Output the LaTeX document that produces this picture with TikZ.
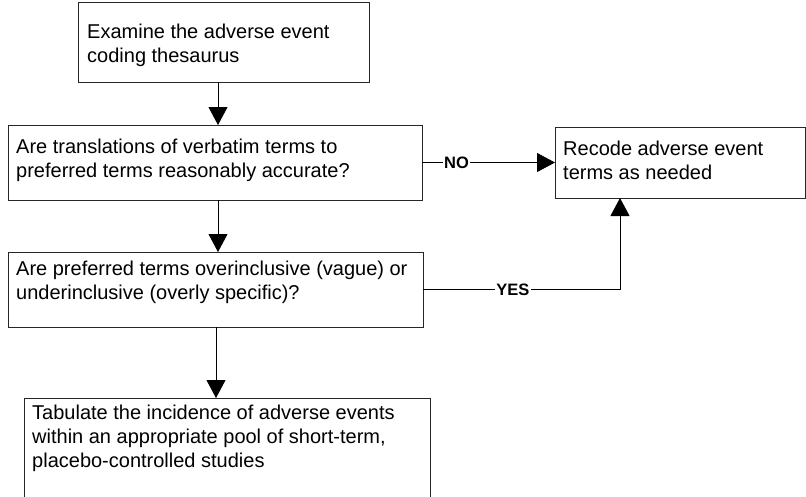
\documentclass[tikz,border=0pt]{standalone}
\usepackage{fontspec}
\setmainfont{Liberation Sans}
\usetikzlibrary{arrows.meta,calc}
\begin{document}
\begin{tikzpicture}[x=1pt,y=-1pt,
  box/.style={draw=black!85,line width=1pt,rectangle,inner sep=0pt,outer sep=0pt,anchor=north west},
  txt/.style={anchor=north west,align=left,inner sep=0pt,font=\fontsize{20}{24}\selectfont},
  arr/.style={draw=black,line width=0.8pt,-{Triangle[length=18pt,width=19pt]}},
  lbl/.style={fill=white,inner sep=1.5pt,font=\fontsize{16.5}{19}\selectfont\bfseries}]
\useasboundingbox (0,0) rectangle (806,496);
\node[box,minimum width=291pt,minimum height=80pt] (b1) at (78,2) {};
\node[box,minimum width=414pt,minimum height=75pt] (b2) at (8,125) {};
\node[box,minimum width=250pt,minimum height=71pt] (b3) at (555,127) {};
\node[box,minimum width=415pt,minimum height=75pt] (b4) at (8,252) {};
\node[box,minimum width=406pt,minimum height=112pt] (b5) at (24,398) {};
\node[txt] (t1) at (87,24) {Examine the adverse event\\coding thesaurus};
\node[txt] (t2) at (16,138.5) {Are translations of verbatim terms to\\preferred terms reasonably accurate?};
\node[txt] (t3) at (563,140.5) {Recode adverse event\\terms as needed};
\node[txt] (t4) at (16,261) {Are preferred terms overinclusive (vague) or\\underinclusive (overly specific)?};
\node[txt] (t5) at (32,405) {Tabulate the incidence of adverse events\\within an appropriate pool of short-term,\\placebo-controlled studies};
\coordinate (ax) at (218,0);
\coordinate (bx) at (216,0);
\coordinate (yx) at (620,0);
\draw[arr] (b1.south -| ax) -- (b2.north -| ax);
\draw[arr] (b2.south -| ax) -- (b4.north -| ax);
\draw[arr] (b4.south -| bx) -- (b5.north -| bx);
\draw[arr] (b2.east) -- node[lbl,pos=0.26]{NO} (b3.west);
\draw[arr] (b4.east) -| node[lbl,pos=0.228]{YES} (b3.south -| yx);
\end{tikzpicture}
\end{document}
